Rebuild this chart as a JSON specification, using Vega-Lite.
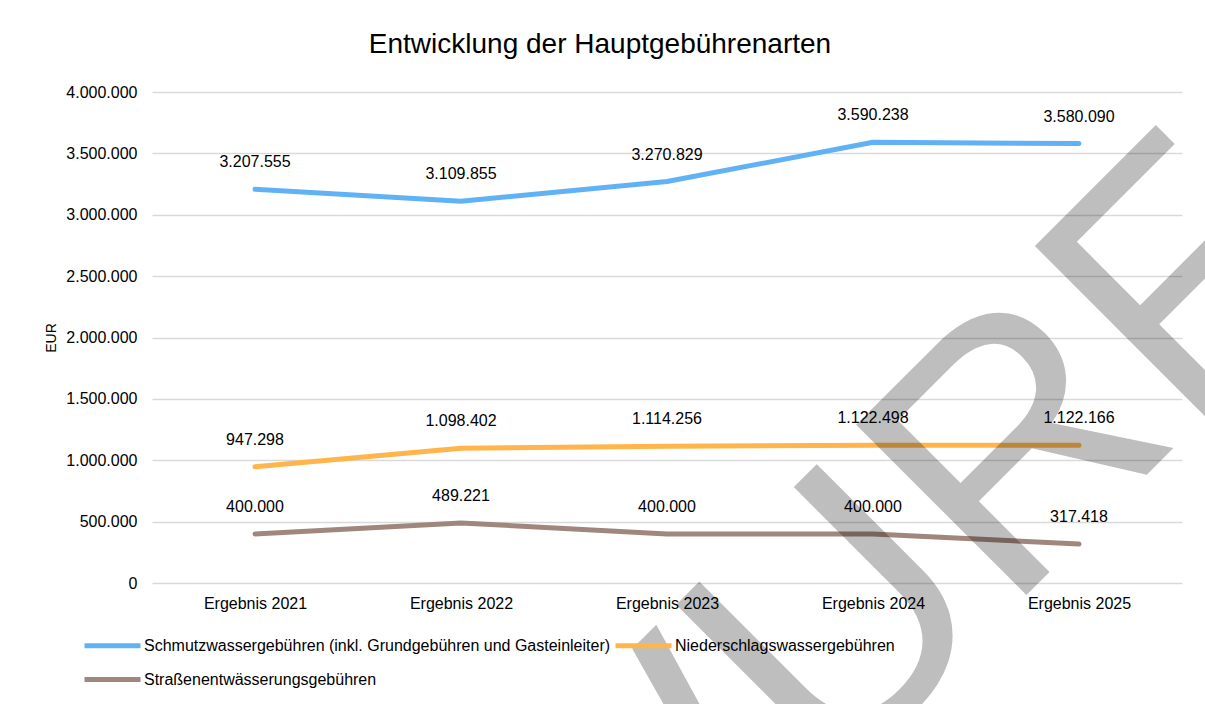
{
  "$schema": "https://vega.github.io/schema/vega-lite/v6.json",
  "width": 1030,
  "height": 491,
  "autosize": {"type": "none"},
  "padding": {"left": 152, "top": 92, "right": 23, "bottom": 121},
  "background": "white",
  "config": {
    "locale": {"number": {"decimal": ",", "thousands": ".", "grouping": [3], "currency": ["", " €"]}},
    "font": "Liberation Sans",
    "view": {"stroke": null}
  },
  "title": {
    "text": "Entwicklung der Hauptgebührenarten",
    "fontSize": 28,
    "fontWeight": "normal",
    "font": "Liberation Sans",
    "color": "#000000",
    "anchor": "middle",
    "dx": -67,
    "offset": 25
  },
  "data": {
    "values": [
      {"jahr": "Ergebnis 2021", "art": "Schmutzwassergebühren (inkl. Grundgebühren und Gasteinleiter)", "wert": 3207555},
      {"jahr": "Ergebnis 2022", "art": "Schmutzwassergebühren (inkl. Grundgebühren und Gasteinleiter)", "wert": 3109855},
      {"jahr": "Ergebnis 2023", "art": "Schmutzwassergebühren (inkl. Grundgebühren und Gasteinleiter)", "wert": 3270829},
      {"jahr": "Ergebnis 2024", "art": "Schmutzwassergebühren (inkl. Grundgebühren und Gasteinleiter)", "wert": 3590238},
      {"jahr": "Ergebnis 2025", "art": "Schmutzwassergebühren (inkl. Grundgebühren und Gasteinleiter)", "wert": 3580090},
      {"jahr": "Ergebnis 2021", "art": "Niederschlagswassergebühren", "wert": 947298},
      {"jahr": "Ergebnis 2022", "art": "Niederschlagswassergebühren", "wert": 1098402},
      {"jahr": "Ergebnis 2023", "art": "Niederschlagswassergebühren", "wert": 1114256},
      {"jahr": "Ergebnis 2024", "art": "Niederschlagswassergebühren", "wert": 1122498},
      {"jahr": "Ergebnis 2025", "art": "Niederschlagswassergebühren", "wert": 1122166},
      {"jahr": "Ergebnis 2021", "art": "Straßenentwässerungsgebühren", "wert": 400000},
      {"jahr": "Ergebnis 2022", "art": "Straßenentwässerungsgebühren", "wert": 489221},
      {"jahr": "Ergebnis 2023", "art": "Straßenentwässerungsgebühren", "wert": 400000},
      {"jahr": "Ergebnis 2024", "art": "Straßenentwässerungsgebühren", "wert": 400000},
      {"jahr": "Ergebnis 2025", "art": "Straßenentwässerungsgebühren", "wert": 317418}
    ]
  },
  "encoding": {
    "x": {
      "field": "jahr",
      "type": "nominal",
      "sort": ["Ergebnis 2021", "Ergebnis 2022", "Ergebnis 2023", "Ergebnis 2024", "Ergebnis 2025"],
      "scale": {"type": "point", "padding": 0.5},
      "axis": {
        "title": null,
        "labelAngle": 0,
        "labelFontSize": 16,
        "labelColor": "#000000",
        "labelFont": "Liberation Sans",
        "domain": false,
        "ticks": false,
        "tickSize": 0,
        "grid": false,
        "labelPadding": 12
      }
    },
    "y": {
      "field": "wert",
      "type": "quantitative",
      "scale": {"domain": [0, 4000000], "nice": false},
      "axis": {
        "title": "EUR",
        "titleFontSize": 14,
        "titleFontWeight": "normal",
        "titleColor": "#000000",
        "titleFont": "Liberation Sans",
        "titlePadding": 7,
        "values": [0, 500000, 1000000, 1500000, 2000000, 2500000, 3000000, 3500000, 4000000],
        "format": ",d",
        "labelFontSize": 16,
        "labelColor": "#000000",
        "labelFont": "Liberation Sans",
        "labelPadding": 15,
        "domain": false,
        "ticks": false,
        "tickSize": 0,
        "grid": true,
        "gridColor": "#D9D9D9",
        "gridWidth": 1.5
      }
    }
  },
  "layer": [
    {
      "mark": {"type": "line", "strokeWidth": 5, "strokeCap": "round", "strokeJoin": "round"},
      "encoding": {
        "color": {
          "field": "art",
          "type": "nominal",
          "sort": ["Schmutzwassergebühren (inkl. Grundgebühren und Gasteinleiter)", "Niederschlagswassergebühren", "Straßenentwässerungsgebühren"],
          "scale": {
            "domain": ["Schmutzwassergebühren (inkl. Grundgebühren und Gasteinleiter)", "Niederschlagswassergebühren", "Straßenentwässerungsgebühren"],
            "range": ["#61B2F5", "#FFB54A", "#A0877D"]
          },
          "legend": {
            "title": null,
            "orient": "none",
            "legendX": -50,
            "legendY": 543,
            "direction": "horizontal",
            "columns": 2,
            "columnPadding": -6,
            "rowPadding": 13,
            "symbolType": "M-3.5,0H3.5",
            "symbolSize": 256,
            "symbolStrokeWidth": 5,
            "labelFontSize": 16,
            "labelColor": "#000000",
            "labelFont": "Liberation Sans",
            "labelOffset": 21,
            "labelLimit": 0
          }
        }
      }
    },
    {
      "mark": {"type": "text", "dy": -27, "fontSize": 16, "color": "#000000", "font": "Liberation Sans", "baseline": "middle"},
      "encoding": {
        "text": {"field": "wert", "type": "quantitative", "format": ",d"},
        "detail": {"field": "art", "type": "nominal"}
      }
    },
    {
      "data": {"values": [{"wasserzeichen": "ENTWURF", "jahr": "Ergebnis 2024", "wert": 0}]},
      "mark": {
        "type": "text",
        "font": "Liberation Sans",
        "fontSize": 350,
        "angle": -45,
        "align": "center",
        "baseline": "alphabetic",
        "dx": -337,
        "dy": 117,
        "color": "#000000",
        "opacity": 0.25
      },
      "encoding": {
        "text": {"field": "wasserzeichen", "type": "nominal"}
      }
    }
  ]
}
